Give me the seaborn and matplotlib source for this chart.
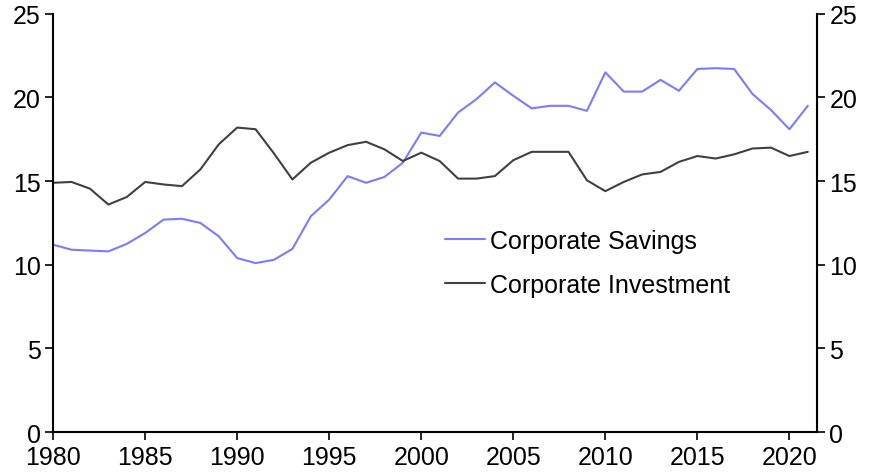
import matplotlib
matplotlib.use("Agg")
import matplotlib.pyplot as plt
import seaborn as sns
import pandas as pd

years = list(range(1980, 2022))
savings = [11.2, 10.9, 10.85, 10.8, 11.25, 11.9, 12.7, 12.75, 12.5, 11.7,
           10.4, 10.1, 10.3, 10.95, 12.9, 13.9, 15.3, 14.9, 15.25, 16.1,
           17.9, 17.7, 19.1, 19.9, 20.9, 20.1, 19.35, 19.5, 19.5, 19.2,
           21.5, 20.35, 20.35, 21.05, 20.4, 21.7, 21.75, 21.7, 20.2, 19.25,
           18.1, 19.5]
investment = [14.9, 14.95, 14.55, 13.6, 14.05, 14.95, 14.8, 14.7, 15.7, 17.2,
              18.2, 18.1, 16.65, 15.1, 16.1, 16.7, 17.15, 17.35, 16.9, 16.2,
              16.7, 16.2, 15.15, 15.15, 15.3, 16.25, 16.75, 16.75, 16.75, 15.05,
              14.4, 14.95, 15.4, 15.55, 16.15, 16.5, 16.35, 16.6, 16.95, 17.0,
              16.5, 16.75]

df = pd.DataFrame({"Year": years,
                   "Corporate Savings": savings,
                   "Corporate Investment": investment})
long = df.melt(id_vars="Year", var_name="Series", value_name="Value")

sns.set_style("ticks")
plt.rcParams["font.family"] = ["Liberation Sans", "DejaVu Sans"]
plt.rcParams["text.color"] = "black"

fig = plt.figure(figsize=(8.71, 4.77), dpi=100)
ax = fig.add_axes([0.061, 0.092, 0.877, 0.877])

sns.lineplot(data=long, x="Year", y="Value", hue="Series", ax=ax,
             palette={"Corporate Savings": "#7b7bff",
                      "Corporate Investment": "#404040"},
             linewidth=1.5)

ax.set_xlim(1980, 2021.5)
ax.set_ylim(0, 25)
ax.set_xticks(range(1980, 2021, 5))
ax.set_yticks(range(0, 26, 5))
ax.set_xlabel("")
ax.set_ylabel("")
ax.tick_params(labelsize=18, length=6, width=1.2, pad=3, color="black", labelcolor="black")
for s in ["left", "bottom"]:
    ax.spines[s].set_linewidth(1.5)
    ax.spines[s].set_color("black")
ax.spines["top"].set_visible(False)

ax2 = ax.twinx()
ax2.set_ylim(0, 25)
ax2.set_yticks(range(0, 26, 5))
ax2.tick_params(labelsize=18, length=6, width=1.2, pad=3, color="black", labelcolor="black")
ax2.spines["right"].set_linewidth(1.5)
ax2.spines["right"].set_color("black")
ax2.spines["top"].set_visible(False)
ax2.spines["left"].set_visible(False)
ax2.spines["bottom"].set_visible(False)

leg = ax.legend(loc="upper left", bbox_to_anchor=(0.483, 0.54), frameon=False,
                fontsize=18, handlelength=1.6, handletextpad=0.2,
                labelspacing=0.8, title=None)
for t in leg.get_texts():
    t.set_color("black")

fig.savefig("out.png", dpi=100)
